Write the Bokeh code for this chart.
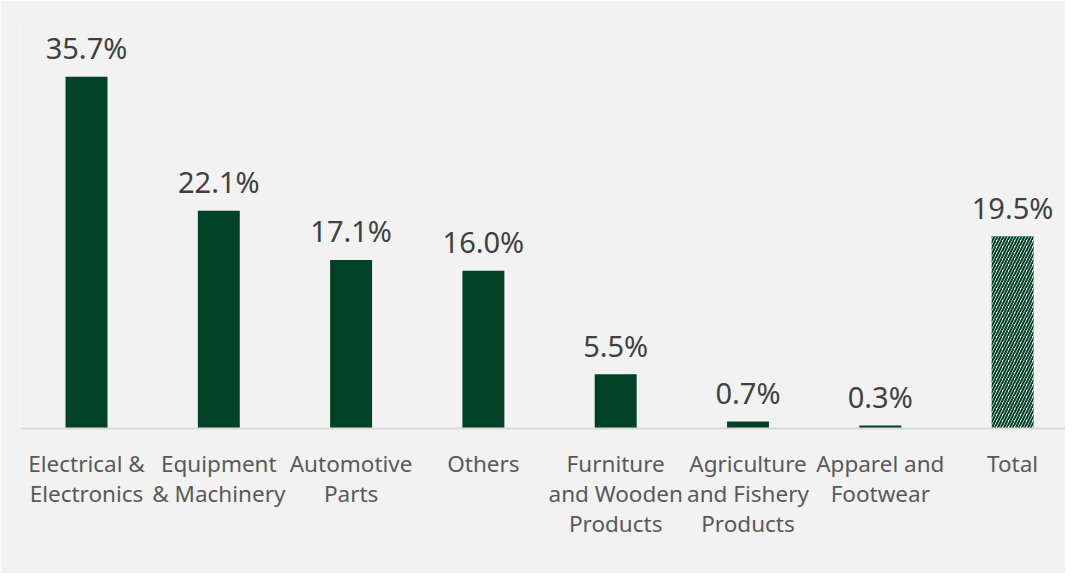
from bokeh.plotting import figure
from bokeh.models import ColumnDataSource, FixedTicker, Range1d
from bokeh.core.properties import value
from bokeh.embed import file_html
from bokeh.resources import INLINE

categories = ["Electrical &\nElectronics", "Equipment\n& Machinery", "Automotive\nParts", "Others",
              "Furniture\nand Wooden\nProducts", "Agriculture\nand Fishery\nProducts",
              "Apparel and\nFootwear", "Total"]
growth = [35.7, 22.1, 17.1, 16.0, 5.5, 0.7, 0.3, 19.5]
labels = ["35.7%", "22.1%", "17.1%", "16.0%", "5.5%", "0.7%", "0.3%", "19.5%"]

BG = "#F2F2F2"
GREEN = "#004225"
n = len(categories)
xs = list(range(n))

p = figure(width=1065, height=573, output_backend="svg", toolbar_location=None,
           x_range=Range1d(-0.499, 7.40), y_range=Range1d(0, 41.4),
           min_border_left=20, min_border_right=0, min_border_top=20, min_border_bottom=145)
p.background_fill_color = BG
p.border_fill_color = BG
p.outline_line_color = None
p.grid.visible = False
p.yaxis.visible = False

solid = ColumnDataSource(dict(x=xs[:-1], top=growth[:-1]))
total = ColumnDataSource(dict(x=xs[-1:], top=growth[-1:]))
p.vbar(x="x", top="top", width=0.317, bottom=0, source=solid, fill_color=GREEN, line_color=None)
p.vbar(x="x", top="top", width=0.317, bottom=0, source=total, fill_color="white", line_color=None,
       hatch_pattern="/", hatch_color=GREEN, hatch_scale=6, hatch_weight=2.1)

lab = ColumnDataSource(dict(x=xs, y=growth, t=labels))
p.text(x="x", y="y", text="t", source=lab, text_align="center", text_baseline="alphabetic",
       y_offset=-29, text_font=value("Noto Sans"), text_font_size="29px", text_color="#404040")

ax = p.xaxis[0]
ax.ticker = FixedTicker(ticks=xs)
ax.major_label_overrides = {i: c for i, c in enumerate(categories)}
ax.major_label_text_font = "Noto Sans"
ax.major_label_text_font_size = "22.5px"
ax.major_label_text_color = "#595959"
ax.major_label_text_line_height = 0.97
ax.major_label_standoff = 13
ax.major_tick_line_color = None
ax.minor_tick_line_color = None
ax.axis_line_color = "#D9D9D9"
ax.axis_line_width = 2

html = file_html(p, INLINE)
html = html.replace("<body>", '<body style="background:%s;">' % BG, 1)
open("out.html", "w").write(html)
